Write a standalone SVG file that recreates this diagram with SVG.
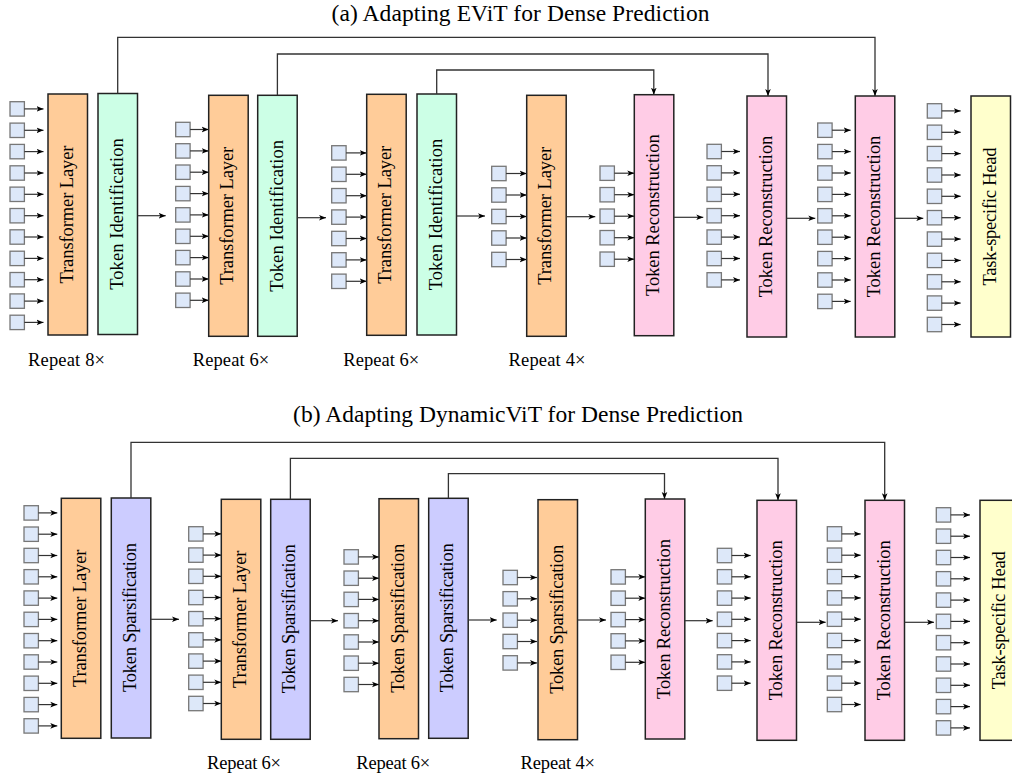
<svg xmlns="http://www.w3.org/2000/svg" width="1012" height="778" viewBox="0 0 1012 778">
<style>
.box{stroke:#222;stroke-width:1.5}
.tl{fill:#ffcc99}.ti{fill:#ccffe6}.tr{fill:#ffcce6}.ts{fill:#ccccff}.th{fill:#ffffcc}
.tok{fill:#dde8f9;stroke:#777;stroke-width:1.3}
.lbl{font-family:"Liberation Serif","Times New Roman",serif;font-size:18.5px;text-anchor:middle;fill:#000}
.rep{font-family:"Liberation Serif","Times New Roman",serif;font-size:18.5px;text-anchor:middle;fill:#000}
.title{font-family:"Liberation Serif","Times New Roman",serif;font-size:23.5px;text-anchor:middle;fill:#000}
.ta{stroke:#333;stroke-width:1.2;marker-end:url(#ah)}
.conn{fill:none;stroke:#333;stroke-width:1.3;marker-end:url(#ah)}
</style>
<defs>
<marker id="ah" viewBox="0 0 10 10" refX="10" refY="5" markerWidth="7" markerHeight="7" markerUnits="userSpaceOnUse" orient="auto">
<path d="M0,1 L10,5 L0,9 L2.5,5 z" fill="#000"/>
</marker>
<rect id="sq" class="tok" width="14.4" height="14.4"/>
</defs>
<rect width="1012" height="778" fill="#fff"/>

<text class="title" x="520.5" y="21" textLength="378">(a) Adapting EViT for Dense Prediction</text>
<text class="title" x="518" y="422" textLength="450">(b) Adapting DynamicViT for Dense Prediction</text>

<!-- ===== (a) nodes ===== -->
<g id="a-tokens-1"><use href="#sq" x="10" y="101.7"/><use href="#sq" x="10" y="123.1"/><use href="#sq" x="10" y="144.4"/><use href="#sq" x="10" y="165.8"/><use href="#sq" x="10" y="187.1"/><use href="#sq" x="10" y="208.5"/><use href="#sq" x="10" y="229.8"/><use href="#sq" x="10" y="251.2"/><use href="#sq" x="10" y="272.5"/><use href="#sq" x="10" y="293.9"/><use href="#sq" x="10" y="315.2"/></g>
<g id="a-transformer-1"><rect class="box tl" x="48" y="94" width="39.5" height="241"/><text class="lbl" transform="translate(67.75,214.5) rotate(-90)" y="5" textLength="138">Transformer Layer</text></g>
<g id="a-tokenid-1"><rect class="box ti" x="98" y="93.5" width="39.5" height="241"/><text class="lbl" transform="translate(117.75,214) rotate(-90)" y="5.5" textLength="151.7">Token Identification</text></g>

<g id="a-tokens-2"><use href="#sq" x="175.7" y="122.3"/><use href="#sq" x="175.7" y="143.7"/><use href="#sq" x="175.7" y="165"/><use href="#sq" x="175.7" y="186.4"/><use href="#sq" x="175.7" y="207.7"/><use href="#sq" x="175.7" y="229.1"/><use href="#sq" x="175.7" y="250.4"/><use href="#sq" x="175.7" y="271.8"/><use href="#sq" x="175.7" y="293.1"/></g>
<g id="a-transformer-2"><rect class="box tl" x="208.7" y="95.3" width="39.5" height="241"/><text class="lbl" transform="translate(228.45,215.8) rotate(-90)" y="5" textLength="138">Transformer Layer</text></g>
<g id="a-tokenid-2"><rect class="box ti" x="257.7" y="95.3" width="39.5" height="241"/><text class="lbl" transform="translate(277.45,215.8) rotate(-90)" y="5.5" textLength="151.7">Token Identification</text></g>

<g id="a-tokens-3"><use href="#sq" x="331.7" y="145.7"/><use href="#sq" x="331.7" y="167.1"/><use href="#sq" x="331.7" y="188.5"/><use href="#sq" x="331.7" y="209.9"/><use href="#sq" x="331.7" y="231.3"/><use href="#sq" x="331.7" y="252.7"/><use href="#sq" x="331.7" y="274.1"/></g>
<g id="a-transformer-3"><rect class="box tl" x="366.7" y="94.3" width="39.5" height="241"/><text class="lbl" transform="translate(386.45,214.8) rotate(-90)" y="5" textLength="138">Transformer Layer</text></g>
<g id="a-tokenid-3"><rect class="box ti" x="417" y="94" width="39.5" height="241"/><text class="lbl" transform="translate(436.75,214.5) rotate(-90)" y="5.5" textLength="151.7">Token Identification</text></g>

<g id="a-tokens-4"><use href="#sq" x="491.7" y="166.3"/><use href="#sq" x="491.7" y="187.8"/><use href="#sq" x="491.7" y="209.3"/><use href="#sq" x="491.7" y="230.8"/><use href="#sq" x="491.7" y="252.3"/></g>
<g id="a-transformer-4"><rect class="box tl" x="526.7" y="95.3" width="39.5" height="241"/><text class="lbl" transform="translate(546.45,215.8) rotate(-90)" y="5" textLength="138">Transformer Layer</text></g>

<g id="a-tokens-5"><use href="#sq" x="600" y="166"/><use href="#sq" x="600" y="187.5"/><use href="#sq" x="600" y="209"/><use href="#sq" x="600" y="230.5"/><use href="#sq" x="600" y="252"/></g>
<g id="a-recon-1"><rect class="box tr" x="634.3" y="94.7" width="39.5" height="241"/><text class="lbl" transform="translate(654.05,215.2) rotate(-90)" y="5" textLength="161.7">Token Reconstruction</text></g>

<g id="a-tokens-6"><use href="#sq" x="707" y="144.3"/><use href="#sq" x="707" y="165.7"/><use href="#sq" x="707" y="187.1"/><use href="#sq" x="707" y="208.5"/><use href="#sq" x="707" y="229.9"/><use href="#sq" x="707" y="251.3"/><use href="#sq" x="707" y="272.7"/></g>
<g id="a-recon-2"><rect class="box tr" x="747" y="96" width="39.5" height="241"/><text class="lbl" transform="translate(766.75,216.5) rotate(-90)" y="5" textLength="161.7">Token Reconstruction</text></g>

<g id="a-tokens-7"><use href="#sq" x="817.7" y="123"/><use href="#sq" x="817.7" y="144.4"/><use href="#sq" x="817.7" y="165.8"/><use href="#sq" x="817.7" y="187.2"/><use href="#sq" x="817.7" y="208.6"/><use href="#sq" x="817.7" y="230"/><use href="#sq" x="817.7" y="251.4"/><use href="#sq" x="817.7" y="272.8"/><use href="#sq" x="817.7" y="294.2"/></g>
<g id="a-recon-3"><rect class="box tr" x="855.3" y="96" width="39.5" height="241"/><text class="lbl" transform="translate(875.05,216.5) rotate(-90)" y="5" textLength="161.7">Token Reconstruction</text></g>

<g id="a-tokens-8"><use href="#sq" x="927.3" y="103.7"/><use href="#sq" x="927.3" y="125.1"/><use href="#sq" x="927.3" y="146.4"/><use href="#sq" x="927.3" y="167.8"/><use href="#sq" x="927.3" y="189.1"/><use href="#sq" x="927.3" y="210.5"/><use href="#sq" x="927.3" y="231.9"/><use href="#sq" x="927.3" y="253.2"/><use href="#sq" x="927.3" y="274.6"/><use href="#sq" x="927.3" y="295.9"/><use href="#sq" x="927.3" y="317.3"/></g>
<g id="a-head"><rect class="box th" x="971" y="96" width="39.5" height="241"/><text class="lbl" transform="translate(990.75,216.5) rotate(-90)" y="5" textLength="138">Task-specific Head</text></g>

<g id="a-repeats">
<text class="rep" x="66.5" y="366" textLength="77">Repeat 8×</text>
<text class="rep" x="231" y="366" textLength="76.5">Repeat 6×</text>
<text class="rep" x="381.3" y="366" textLength="76">Repeat 6×</text>
<text class="rep" x="547" y="366" textLength="77">Repeat 4×</text>
</g>

<!-- ===== (b) nodes ===== -->
<g id="b-tokens-1"><use href="#sq" x="24" y="505.7"/><use href="#sq" x="24" y="527"/><use href="#sq" x="24" y="548.3"/><use href="#sq" x="24" y="569.6"/><use href="#sq" x="24" y="590.9"/><use href="#sq" x="24" y="612.2"/><use href="#sq" x="24" y="633.5"/><use href="#sq" x="24" y="654.8"/><use href="#sq" x="24" y="676.1"/><use href="#sq" x="24" y="697.4"/><use href="#sq" x="24" y="718.7"/></g>
<g id="b-transformer-1"><rect class="box tl" x="61.3" y="498.3" width="39.5" height="240"/><text class="lbl" transform="translate(81.05,618.3) rotate(-90)" y="5" textLength="137.5">Transformer Layer</text></g>
<g id="b-sparse-1"><rect class="box ts" x="111.3" y="498" width="39.5" height="240"/><text class="lbl" transform="translate(131.05,617.5) rotate(-90)" y="5" textLength="149">Token Sparsification</text></g>

<g id="b-tokens-2"><use href="#sq" x="188.7" y="526.7"/><use href="#sq" x="188.7" y="547.9"/><use href="#sq" x="188.7" y="569.1"/><use href="#sq" x="188.7" y="590.3"/><use href="#sq" x="188.7" y="611.5"/><use href="#sq" x="188.7" y="632.7"/><use href="#sq" x="188.7" y="653.9"/><use href="#sq" x="188.7" y="675.1"/><use href="#sq" x="188.7" y="696.3"/></g>
<g id="b-transformer-2"><rect class="box tl" x="221.3" y="499.3" width="39.5" height="240"/><text class="lbl" transform="translate(241.05,619.3) rotate(-90)" y="5" textLength="137.5">Transformer Layer</text></g>
<g id="b-sparse-2"><rect class="box ts" x="270.7" y="499.3" width="39.5" height="240"/><text class="lbl" transform="translate(290.45,618.8) rotate(-90)" y="5" textLength="149">Token Sparsification</text></g>

<g id="b-tokens-3"><use href="#sq" x="344" y="549.7"/><use href="#sq" x="344" y="571"/><use href="#sq" x="344" y="592.2"/><use href="#sq" x="344" y="613.5"/><use href="#sq" x="344" y="634.8"/><use href="#sq" x="344" y="656"/><use href="#sq" x="344" y="677.3"/></g>
<g id="b-stage-3"><rect class="box tl" x="379" y="498.7" width="39.5" height="240"/><text class="lbl" transform="translate(398.75,618.2) rotate(-90)" y="5" textLength="149">Token Sparsification</text></g>
<g id="b-sparse-3"><rect class="box ts" x="428.7" y="498.3" width="39.5" height="240"/><text class="lbl" transform="translate(448.45,617.8) rotate(-90)" y="5" textLength="149">Token Sparsification</text></g>

<g id="b-tokens-4"><use href="#sq" x="503" y="570.3"/><use href="#sq" x="503" y="591.6"/><use href="#sq" x="503" y="613"/><use href="#sq" x="503" y="634.3"/><use href="#sq" x="503" y="655.7"/></g>
<g id="b-stage-4"><rect class="box tl" x="538" y="499.7" width="39.5" height="240"/><text class="lbl" transform="translate(557.75,619.2) rotate(-90)" y="5" textLength="149">Token Sparsification</text></g>

<g id="b-tokens-5"><use href="#sq" x="611" y="569.7"/><use href="#sq" x="611" y="591"/><use href="#sq" x="611" y="612.4"/><use href="#sq" x="611" y="633.7"/><use href="#sq" x="611" y="655.1"/></g>
<g id="b-recon-1"><rect class="box tr" x="645.3" y="499" width="39.5" height="240"/><text class="lbl" transform="translate(665.05,619) rotate(-90)" y="5" textLength="160">Token Reconstruction</text></g>

<g id="b-tokens-6"><use href="#sq" x="717.3" y="548.3"/><use href="#sq" x="717.3" y="569.6"/><use href="#sq" x="717.3" y="590.9"/><use href="#sq" x="717.3" y="612.1"/><use href="#sq" x="717.3" y="633.4"/><use href="#sq" x="717.3" y="654.7"/><use href="#sq" x="717.3" y="676"/></g>
<g id="b-recon-2"><rect class="box tr" x="757" y="500.3" width="39.5" height="240"/><text class="lbl" transform="translate(776.75,620.3) rotate(-90)" y="5" textLength="160">Token Reconstruction</text></g>

<g id="b-tokens-7"><use href="#sq" x="827.3" y="526.7"/><use href="#sq" x="827.3" y="548"/><use href="#sq" x="827.3" y="569.4"/><use href="#sq" x="827.3" y="590.7"/><use href="#sq" x="827.3" y="612"/><use href="#sq" x="827.3" y="633.3"/><use href="#sq" x="827.3" y="654.7"/><use href="#sq" x="827.3" y="676"/><use href="#sq" x="827.3" y="697.3"/></g>
<g id="b-recon-3"><rect class="box tr" x="865" y="500.3" width="39.5" height="240"/><text class="lbl" transform="translate(884.75,620.3) rotate(-90)" y="5" textLength="160">Token Reconstruction</text></g>

<g id="b-tokens-8"><use href="#sq" x="936.3" y="507.7"/><use href="#sq" x="936.3" y="529"/><use href="#sq" x="936.3" y="550.3"/><use href="#sq" x="936.3" y="571.6"/><use href="#sq" x="936.3" y="592.9"/><use href="#sq" x="936.3" y="614.2"/><use href="#sq" x="936.3" y="635.5"/><use href="#sq" x="936.3" y="656.8"/><use href="#sq" x="936.3" y="678.1"/><use href="#sq" x="936.3" y="699.4"/><use href="#sq" x="936.3" y="720.7"/></g>
<g id="b-head"><rect class="box th" x="980" y="500.3" width="39.5" height="240"/><text class="lbl" transform="translate(999.75,620.3) rotate(-90)" y="5" textLength="138">Task-specific Head</text></g>

<g id="b-repeats">
<text class="rep" x="244" y="769" textLength="74">Repeat 6×</text>
<text class="rep" x="393.3" y="769" textLength="74">Repeat 6×</text>
<text class="rep" x="557.8" y="769" textLength="74.5">Repeat 4×</text>
</g>

<!-- ===== connectors ===== -->
<g id="connectors">
<path class="conn" d="M117.7,93.5 V37.3 H875 V96"/>
<path class="conn" d="M277.4,95.3 V54 H768 V96"/>
<path class="conn" d="M436.7,94 V70 H653.8 V94.7"/>
<line class="ta" x1="137.5" y1="215.7" x2="165.7" y2="215.7"/>
<line class="ta" x1="297.2" y1="217.7" x2="326" y2="217.7"/>
<line class="ta" x1="456.5" y1="216" x2="485" y2="216"/>
<line class="ta" x1="566.2" y1="216.7" x2="595.3" y2="216.7"/>
<line class="ta" x1="673.8" y1="217.3" x2="703.3" y2="217.3"/>
<line class="ta" x1="786.5" y1="218.3" x2="815.3" y2="218.3"/>
<line class="ta" x1="894.8" y1="218.3" x2="923.3" y2="218.3"/>
<line class="ta" x1="24.4" y1="108.9" x2="43.5" y2="108.9"/><line class="ta" x1="24.4" y1="130.3" x2="43.5" y2="130.3"/><line class="ta" x1="24.4" y1="151.6" x2="43.5" y2="151.6"/><line class="ta" x1="24.4" y1="173" x2="43.5" y2="173"/><line class="ta" x1="24.4" y1="194.3" x2="43.5" y2="194.3"/><line class="ta" x1="24.4" y1="215.7" x2="43.5" y2="215.7"/><line class="ta" x1="24.4" y1="237" x2="43.5" y2="237"/><line class="ta" x1="24.4" y1="258.4" x2="43.5" y2="258.4"/><line class="ta" x1="24.4" y1="279.7" x2="43.5" y2="279.7"/><line class="ta" x1="24.4" y1="301.1" x2="43.5" y2="301.1"/><line class="ta" x1="24.4" y1="322.4" x2="43.5" y2="322.4"/>
<line class="ta" x1="190.1" y1="129.5" x2="208.7" y2="129.5"/><line class="ta" x1="190.1" y1="150.9" x2="208.7" y2="150.9"/><line class="ta" x1="190.1" y1="172.2" x2="208.7" y2="172.2"/><line class="ta" x1="190.1" y1="193.6" x2="208.7" y2="193.6"/><line class="ta" x1="190.1" y1="214.9" x2="208.7" y2="214.9"/><line class="ta" x1="190.1" y1="236.3" x2="208.7" y2="236.3"/><line class="ta" x1="190.1" y1="257.6" x2="208.7" y2="257.6"/><line class="ta" x1="190.1" y1="279" x2="208.7" y2="279"/><line class="ta" x1="190.1" y1="300.3" x2="208.7" y2="300.3"/>
<line class="ta" x1="346.1" y1="152.9" x2="366.7" y2="152.9"/><line class="ta" x1="346.1" y1="174.3" x2="366.7" y2="174.3"/><line class="ta" x1="346.1" y1="195.7" x2="366.7" y2="195.7"/><line class="ta" x1="346.1" y1="217.1" x2="366.7" y2="217.1"/><line class="ta" x1="346.1" y1="238.5" x2="366.7" y2="238.5"/><line class="ta" x1="346.1" y1="259.9" x2="366.7" y2="259.9"/><line class="ta" x1="346.1" y1="281.3" x2="366.7" y2="281.3"/>
<line class="ta" x1="506.1" y1="173.5" x2="526.7" y2="173.5"/><line class="ta" x1="506.1" y1="195" x2="526.7" y2="195"/><line class="ta" x1="506.1" y1="216.5" x2="526.7" y2="216.5"/><line class="ta" x1="506.1" y1="238" x2="526.7" y2="238"/><line class="ta" x1="506.1" y1="259.5" x2="526.7" y2="259.5"/>
<line class="ta" x1="614.4" y1="173.2" x2="634.3" y2="173.2"/><line class="ta" x1="614.4" y1="194.7" x2="634.3" y2="194.7"/><line class="ta" x1="614.4" y1="216.2" x2="634.3" y2="216.2"/><line class="ta" x1="614.4" y1="237.7" x2="634.3" y2="237.7"/><line class="ta" x1="614.4" y1="259.2" x2="634.3" y2="259.2"/>
<line class="ta" x1="721.4" y1="151.5" x2="740" y2="151.5"/><line class="ta" x1="721.4" y1="172.9" x2="740" y2="172.9"/><line class="ta" x1="721.4" y1="194.3" x2="740" y2="194.3"/><line class="ta" x1="721.4" y1="215.7" x2="740" y2="215.7"/><line class="ta" x1="721.4" y1="237.1" x2="740" y2="237.1"/><line class="ta" x1="721.4" y1="258.5" x2="740" y2="258.5"/><line class="ta" x1="721.4" y1="279.9" x2="740" y2="279.9"/>
<line class="ta" x1="832.1" y1="130.2" x2="850.7" y2="130.2"/><line class="ta" x1="832.1" y1="151.6" x2="850.7" y2="151.6"/><line class="ta" x1="832.1" y1="173" x2="850.7" y2="173"/><line class="ta" x1="832.1" y1="194.4" x2="850.7" y2="194.4"/><line class="ta" x1="832.1" y1="215.8" x2="850.7" y2="215.8"/><line class="ta" x1="832.1" y1="237.2" x2="850.7" y2="237.2"/><line class="ta" x1="832.1" y1="258.6" x2="850.7" y2="258.6"/><line class="ta" x1="832.1" y1="280" x2="850.7" y2="280"/><line class="ta" x1="832.1" y1="301.4" x2="850.7" y2="301.4"/>
<line class="ta" x1="941.7" y1="110.9" x2="960.7" y2="110.9"/><line class="ta" x1="941.7" y1="132.3" x2="960.7" y2="132.3"/><line class="ta" x1="941.7" y1="153.6" x2="960.7" y2="153.6"/><line class="ta" x1="941.7" y1="175" x2="960.7" y2="175"/><line class="ta" x1="941.7" y1="196.3" x2="960.7" y2="196.3"/><line class="ta" x1="941.7" y1="217.7" x2="960.7" y2="217.7"/><line class="ta" x1="941.7" y1="239.1" x2="960.7" y2="239.1"/><line class="ta" x1="941.7" y1="260.4" x2="960.7" y2="260.4"/><line class="ta" x1="941.7" y1="281.8" x2="960.7" y2="281.8"/><line class="ta" x1="941.7" y1="303.1" x2="960.7" y2="303.1"/><line class="ta" x1="941.7" y1="324.5" x2="960.7" y2="324.5"/>

<path class="conn" d="M131,498 V442.3 H884.7 V500.3"/>
<path class="conn" d="M290.4,499.3 V458.3 H778 V500.3"/>
<path class="conn" d="M448.4,498.3 V473.7 H664.5 V499"/>
<line class="ta" x1="150.8" y1="619.3" x2="179" y2="619.3"/>
<line class="ta" x1="310.2" y1="620.7" x2="338" y2="620.7"/>
<line class="ta" x1="468.2" y1="620" x2="496.7" y2="620"/>
<line class="ta" x1="577.5" y1="620" x2="606" y2="620"/>
<line class="ta" x1="684.8" y1="620.7" x2="712.7" y2="620.7"/>
<line class="ta" x1="796.5" y1="622.3" x2="825.7" y2="622.3"/>
<line class="ta" x1="904.5" y1="622.3" x2="934" y2="622.3"/>
<line class="ta" x1="38.4" y1="512.9" x2="57.3" y2="512.9"/><line class="ta" x1="38.4" y1="534.2" x2="57.3" y2="534.2"/><line class="ta" x1="38.4" y1="555.5" x2="57.3" y2="555.5"/><line class="ta" x1="38.4" y1="576.8" x2="57.3" y2="576.8"/><line class="ta" x1="38.4" y1="598.1" x2="57.3" y2="598.1"/><line class="ta" x1="38.4" y1="619.4" x2="57.3" y2="619.4"/><line class="ta" x1="38.4" y1="640.7" x2="57.3" y2="640.7"/><line class="ta" x1="38.4" y1="662" x2="57.3" y2="662"/><line class="ta" x1="38.4" y1="683.3" x2="57.3" y2="683.3"/><line class="ta" x1="38.4" y1="704.6" x2="57.3" y2="704.6"/><line class="ta" x1="38.4" y1="725.9" x2="57.3" y2="725.9"/>
<line class="ta" x1="203.1" y1="533.9" x2="221.3" y2="533.9"/><line class="ta" x1="203.1" y1="555.1" x2="221.3" y2="555.1"/><line class="ta" x1="203.1" y1="576.3" x2="221.3" y2="576.3"/><line class="ta" x1="203.1" y1="597.5" x2="221.3" y2="597.5"/><line class="ta" x1="203.1" y1="618.7" x2="221.3" y2="618.7"/><line class="ta" x1="203.1" y1="639.9" x2="221.3" y2="639.9"/><line class="ta" x1="203.1" y1="661.1" x2="221.3" y2="661.1"/><line class="ta" x1="203.1" y1="682.3" x2="221.3" y2="682.3"/><line class="ta" x1="203.1" y1="703.5" x2="221.3" y2="703.5"/>
<line class="ta" x1="358.4" y1="556.9" x2="379" y2="556.9"/><line class="ta" x1="358.4" y1="578.2" x2="379" y2="578.2"/><line class="ta" x1="358.4" y1="599.4" x2="379" y2="599.4"/><line class="ta" x1="358.4" y1="620.7" x2="379" y2="620.7"/><line class="ta" x1="358.4" y1="642" x2="379" y2="642"/><line class="ta" x1="358.4" y1="663.2" x2="379" y2="663.2"/><line class="ta" x1="358.4" y1="684.5" x2="379" y2="684.5"/>
<line class="ta" x1="517.4" y1="577.5" x2="537" y2="577.5"/><line class="ta" x1="517.4" y1="598.8" x2="537" y2="598.8"/><line class="ta" x1="517.4" y1="620.2" x2="537" y2="620.2"/><line class="ta" x1="517.4" y1="641.5" x2="537" y2="641.5"/><line class="ta" x1="517.4" y1="662.9" x2="537" y2="662.9"/>
<line class="ta" x1="625.4" y1="576.9" x2="645.3" y2="576.9"/><line class="ta" x1="625.4" y1="598.2" x2="645.3" y2="598.2"/><line class="ta" x1="625.4" y1="619.6" x2="645.3" y2="619.6"/><line class="ta" x1="625.4" y1="640.9" x2="645.3" y2="640.9"/><line class="ta" x1="625.4" y1="662.3" x2="645.3" y2="662.3"/>
<line class="ta" x1="731.7" y1="555.5" x2="750.7" y2="555.5"/><line class="ta" x1="731.7" y1="576.8" x2="750.7" y2="576.8"/><line class="ta" x1="731.7" y1="598.1" x2="750.7" y2="598.1"/><line class="ta" x1="731.7" y1="619.3" x2="750.7" y2="619.3"/><line class="ta" x1="731.7" y1="640.6" x2="750.7" y2="640.6"/><line class="ta" x1="731.7" y1="661.9" x2="750.7" y2="661.9"/><line class="ta" x1="731.7" y1="683.2" x2="750.7" y2="683.2"/>
<line class="ta" x1="841.7" y1="533.9" x2="860.7" y2="533.9"/><line class="ta" x1="841.7" y1="555.2" x2="860.7" y2="555.2"/><line class="ta" x1="841.7" y1="576.6" x2="860.7" y2="576.6"/><line class="ta" x1="841.7" y1="597.9" x2="860.7" y2="597.9"/><line class="ta" x1="841.7" y1="619.2" x2="860.7" y2="619.2"/><line class="ta" x1="841.7" y1="640.5" x2="860.7" y2="640.5"/><line class="ta" x1="841.7" y1="661.9" x2="860.7" y2="661.9"/><line class="ta" x1="841.7" y1="683.2" x2="860.7" y2="683.2"/><line class="ta" x1="841.7" y1="704.5" x2="860.7" y2="704.5"/>
<line class="ta" x1="950.7" y1="514.9" x2="970" y2="514.9"/><line class="ta" x1="950.7" y1="536.2" x2="970" y2="536.2"/><line class="ta" x1="950.7" y1="557.5" x2="970" y2="557.5"/><line class="ta" x1="950.7" y1="578.8" x2="970" y2="578.8"/><line class="ta" x1="950.7" y1="600.1" x2="970" y2="600.1"/><line class="ta" x1="950.7" y1="621.4" x2="970" y2="621.4"/><line class="ta" x1="950.7" y1="642.7" x2="970" y2="642.7"/><line class="ta" x1="950.7" y1="664" x2="970" y2="664"/><line class="ta" x1="950.7" y1="685.3" x2="970" y2="685.3"/><line class="ta" x1="950.7" y1="706.6" x2="970" y2="706.6"/><line class="ta" x1="950.7" y1="727.9" x2="970" y2="727.9"/>
</g>
</svg>
